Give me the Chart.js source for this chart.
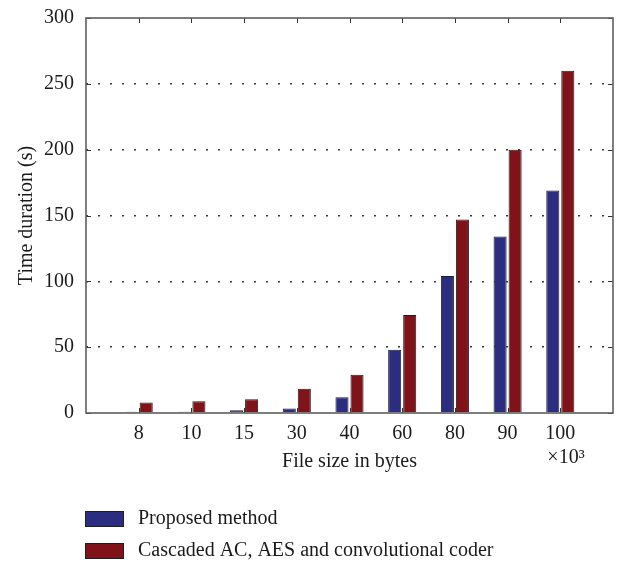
<!DOCTYPE html>
<html>
<head>
<meta charset="utf-8">
<script src="https://cdn.jsdelivr.net/npm/chart.js@4/dist/chart.umd.min.js"></script>
<style>
  html, body { margin: 0; padding: 0; background: #fff; }
  canvas { display: block; }
</style>
</head>
<body>
<canvas id="c" width="619" height="565"></canvas>
<script>
// File sizes (in thousands of bytes) and measured run times in seconds
const fileSizes = ['8', '10', '15', '30', '40', '60', '80', '90', '100'];
const proposedTimes = [1, 1, 2, 3.5, 12, 48, 104, 134, 169];
const cascadedTimes = [8, 9, 10.5, 18.5, 29, 74.5, 147, 200, 260];
const yTickValues = [0, 50, 100, 150, 200, 250, 300];
const seriesNames = ['Proposed method', 'Cascaded AC, AES and convolutional coder'];

const FONT = "'Liberation Serif', 'DejaVu Serif', serif";
const FONT_SIZE = 20;
const TEXT = '#1a1a1a';
const BLUE = '#2b2d80';
const RED = '#80131a';

// empty slots at both ends give the 0..10 style axis with bars at 1..9
const xLabels = ['', ...fileSizes, ''];
const pad = arr => [null, ...arr, null];

// box frame with inward ticks on all four sides, exponent note and legend
const framePlugin = {
  id: 'frame',
  beforeDatasetsDraw(chart) {
    const { ctx, chartArea: a, scales } = chart;
    ctx.save();
    ctx.strokeStyle = '#333';
    ctx.lineWidth = 1;
    ctx.beginPath();
    yTickValues.forEach(v => {
      const y = Math.round(scales.y.getPixelForValue(v)) + 0.5;
      ctx.moveTo(a.left, y); ctx.lineTo(a.left + 5, y);
      ctx.moveTo(a.right, y); ctx.lineTo(a.right - 5, y);
    });
    fileSizes.forEach((_, i) => {
      const x = Math.round(scales.x.getPixelForValue(i + 1)) + 0.5;
      ctx.moveTo(x, a.top); ctx.lineTo(x, a.top + 5);
      ctx.moveTo(x, a.bottom); ctx.lineTo(x, a.bottom - 5);
    });
    ctx.stroke();
    ctx.restore();
  },
  afterDatasetsDraw(chart) {
    const { ctx, chartArea: a } = chart;
    ctx.save();
    ctx.strokeStyle = '#5e5e5e';
    ctx.lineWidth = 1.6;
    ctx.strokeRect(a.left, a.top, a.right - a.left, a.bottom - a.top);
    ctx.restore();
  },
  afterDraw(chart) {
    const { ctx } = chart;
    ctx.save();
    ctx.fillStyle = TEXT;
    ctx.font = `${FONT_SIZE}px ${FONT}`;
    ctx.textAlign = 'center';
    ctx.textBaseline = 'middle';
    ctx.fillText('\u00d710\u00b3', 566, 458);

    // legend stacked in two rows under the axis
    ctx.textAlign = 'left';
    chart.data.datasets.forEach((ds, i) => {
      const y = 511 + i * 32;
      ctx.fillStyle = ds.backgroundColor;
      ctx.fillRect(85, y, 39, 16);
      ctx.strokeStyle = '#1e1e1e';
      ctx.lineWidth = 1;
      ctx.strokeRect(85.5, y + 0.5, 38, 15);
      ctx.fillStyle = TEXT;
      ctx.fillText(ds.label, 138, y + 8);
    });
    ctx.restore();
  }
};

new Chart(document.getElementById('c'), {
  type: 'bar',
  data: {
    labels: xLabels,
    datasets: [
      {
        label: seriesNames[0],
        data: pad(proposedTimes),
        backgroundColor: BLUE,
        borderColor: '#1e1e1e',
        borderWidth: 1
      },
      {
        label: seriesNames[1],
        data: pad(cascadedTimes),
        backgroundColor: RED,
        borderColor: '#1e1e1e',
        borderWidth: 1
      }
    ]
  },
  options: {
    responsive: false,
    animation: false,
    events: [],
    layout: { padding: { top: 18, right: 6, left: 0, bottom: 0 } },
    datasets: { bar: { categoryPercentage: 0.57, barPercentage: 0.87 } },
    plugins: { legend: { display: false }, tooltip: { enabled: false } },
    scales: {
      x: {
        type: 'category',
        offset: false,
        afterFit(s) {
          s.height = 152;
          s.paddingLeft = 0; s.paddingRight = 0;
        },
        grid: { display: false, drawTicks: false },
        border: { display: false },
        ticks: { padding: 9, maxRotation: 0, autoSkip: false, color: TEXT, font: { family: FONT, size: FONT_SIZE } },
        title: {
          display: true, text: 'File size in bytes', color: TEXT,
          font: { family: FONT, size: FONT_SIZE }, padding: { top: 0, bottom: 91 }
        }
      },
      y: {
        min: 0,
        max: 300,
        afterFit(s) {
          s.width = 86;
          s.paddingTop = 0; s.paddingBottom = 0;
        },
        afterBuildTicks(s) { s.ticks = yTickValues.map(v => ({ value: v })); },
        grid: {
          drawTicks: false,
          lineWidth: 1.5,
          color: c => (c.tick && (c.tick.value === 0 || c.tick.value === 300)) ? 'rgba(0,0,0,0)' : '#3a3a3a'
        },
        border: { display: false, dash: [2, 10] },
        ticks: { padding: 12, color: TEXT, font: { family: FONT, size: FONT_SIZE } },
        title: {
          display: true, text: 'Time duration (s)', color: TEXT,
          font: { family: FONT, size: FONT_SIZE }, padding: { top: 15, bottom: 0 }
        }
      }
    }
  },
  plugins: [framePlugin]
});
</script>
</body>
</html>
